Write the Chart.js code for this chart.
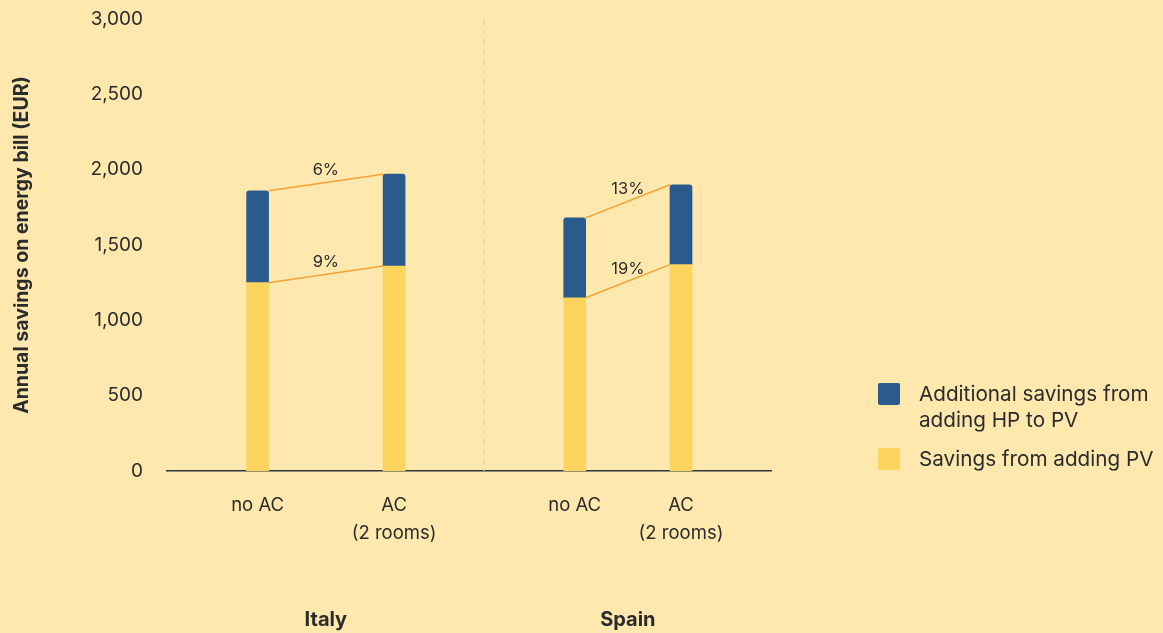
<!DOCTYPE html>
<html>
<head>
<meta charset="utf-8">
<script src="https://cdn.jsdelivr.net/npm/chart.js@4"></script>
<style>
  html, body { margin: 0; padding: 0; background: #FEE8AD; }
  #wrap { position: relative; width: 1163px; height: 633px; background: #FEE8AD; }
  #c { position: absolute; left: 0; top: 0; }
  .legend { position: absolute; left: 878px; top: 0; font-family: Inter, "Open Sans", sans-serif; font-size: 20.7px; color: #2b2b2b; line-height: 26px; }
  .legend .sw { position: absolute; left: 0; width: 22px; height: 22px; border-radius: 2px; }
  .legend .tx { position: absolute; left: 41px; white-space: nowrap; }
</style>
</head>
<body>
<div id="wrap">
  <canvas id="c" width="1163" height="633"></canvas>
  <div class="legend" id="legend"></div>
</div>
<script>
// ---- Data ----
const categories = [["no AC"], ["AC", "(2 rooms)"], ["no AC"], ["AC", "(2 rooms)"]];
const countries = ["Italy", "Spain"];
const pvSavings = [1250, 1360, 1150, 1370];
const hpSavings = [610, 610, 530, 530];           // additional savings (stacked on PV)
const pvGrowth = ["9%", "19%"];
const totalGrowth = ["6%", "13%"];
const yTicks = [0, 500, 1000, 1500, 2000, 2500, 3000];
const seriesNames = ["Additional savings from adding HP to PV", "Savings from adding PV"];

// ---- Layout (slot positions on a 0..100 x scale) ----
const slotPos = [15, 37.6, 67.5, 85.1];
const dividerPos = 52.5;

const BLUE = "#2B5A8C", YELLOW = "#FDD45E", ORANGE = "#F7A033", TEXT = "#2b2b2b";
const FONT = "Inter, 'Open Sans', sans-serif";

const pvData = slotPos.map((x, i) => ({ x, y: pvSavings[i] }));
const hpData = slotPos.map((x, i) => ({ x, y: hpSavings[i] }));

const overlay = {
  id: "overlay",
  beforeDatasetsDraw(chart) {
    const { ctx, scales: { x }, chartArea } = chart;
    const px = x.getPixelForValue(dividerPos);
    ctx.save();
    ctx.strokeStyle = "#DDD6C6";
    ctx.lineWidth = 1.2;
    ctx.setLineDash([6, 4]);
    ctx.beginPath();
    ctx.moveTo(px, chartArea.top);
    ctx.lineTo(px, chartArea.bottom);
    ctx.stroke();
    ctx.restore();
  },
  afterDatasetsDraw(chart) {
    const { ctx, scales: { x, y } } = chart;
    const half = 11;
    ctx.save();
    ctx.strokeStyle = ORANGE;
    ctx.lineWidth = 1.5;
    ctx.fillStyle = TEXT;
    ctx.textAlign = "center";
    ctx.textBaseline = "middle";
    for (let g = 0; g < 2; g++) {
      const a = g * 2, b = g * 2 + 1;
      const x1 = x.getPixelForValue(slotPos[a]) + half;
      const x2 = x.getPixelForValue(slotPos[b]) - half;
      const pairs = [
        [pvSavings[a], pvSavings[b], pvGrowth[g]],
        [pvSavings[a] + hpSavings[a], pvSavings[b] + hpSavings[b], totalGrowth[g]]
      ];
      for (const [v1, v2, lab] of pairs) {
        const y1 = y.getPixelForValue(v1), y2 = y.getPixelForValue(v2);
        ctx.beginPath();
        ctx.moveTo(x1, y1);
        ctx.lineTo(x2, y2);
        ctx.stroke();
        ctx.font = "16.5px " + FONT;
        ctx.fillText(lab, (x1 + x2) / 2, (y1 + y2) / 2 - 12);
      }
      ctx.font = "bold 20px " + FONT;
      const cx = (x.getPixelForValue(slotPos[a]) + x.getPixelForValue(slotPos[b])) / 2;
      ctx.fillText(countries[g], cx, 620);
    }
    ctx.restore();
  }
};

new Chart(document.getElementById("c"), {
  type: "bar",
  data: {
    datasets: [
      { label: seriesNames[1], data: pvData, backgroundColor: YELLOW, barThickness: 22, borderRadius: 0 },
      { label: seriesNames[0], data: hpData, backgroundColor: BLUE, barThickness: 22,
        borderRadius: { topLeft: 3, topRight: 3, bottomLeft: 0, bottomRight: 0 }, borderSkipped: false }
    ]
  },
  options: {
    responsive: false,
    animation: false,
    devicePixelRatio: 1,
    layout: { padding: { top: 19, right: 392, bottom: 0, left: 0 } },
    plugins: { legend: { display: false }, tooltip: { enabled: false } },
    scales: {
      x: {
        type: "linear",
        min: 0, max: 100,
        offset: false,
        stacked: true,
        afterBuildTicks: s => { s.ticks = slotPos.map(v => ({ value: v })); },
        afterFit: s => { s.height = 162; s.paddingLeft = 0; s.paddingRight = 0; },
        ticks: {
          autoSkip: false, maxRotation: 0,
          padding: 21,
          color: TEXT,
          font: { family: FONT, size: 18.5, lineHeight: 1.48 },
          callback: (v, i) => categories[i]
        },
        grid: { display: true, drawOnChartArea: false, drawTicks: false, color: "#2f3640" },
        border: { display: true, color: "#2f3640", width: 1.5 }
      },
      y: {
        min: 0, max: 3000,
        stacked: true,
        afterBuildTicks: s => { s.ticks = yTicks.map(v => ({ value: v })); },
        afterFit: s => { s.width = 167; s.paddingTop = 0; s.paddingBottom = 0; },
        ticks: {
          padding: 24,
          color: TEXT,
          font: { family: FONT, size: 19 },
          callback: v => v.toLocaleString("en-US")
        },
        grid: { display: false, drawTicks: false },
        border: { display: false },
        title: {
          display: true,
          text: "Annual savings on energy bill (EUR)",
          color: TEXT,
          font: { family: FONT, size: 19.5, weight: "bold" },
          padding: { top: 10, bottom: 0 }
        }
      }
    }
  },
  plugins: [overlay]
});

// HTML legend
document.getElementById("legend").innerHTML =
  '<div class="sw" style="top:383px;background:' + BLUE + '"></div>' +
  '<div class="tx" style="top:381px">Additional savings from<br>adding HP to PV</div>' +
  '<div class="sw" style="top:448px;background:' + YELLOW + '"></div>' +
  '<div class="tx" style="top:446px">' + seriesNames[1] + '</div>';
</script>
</body>
</html>
